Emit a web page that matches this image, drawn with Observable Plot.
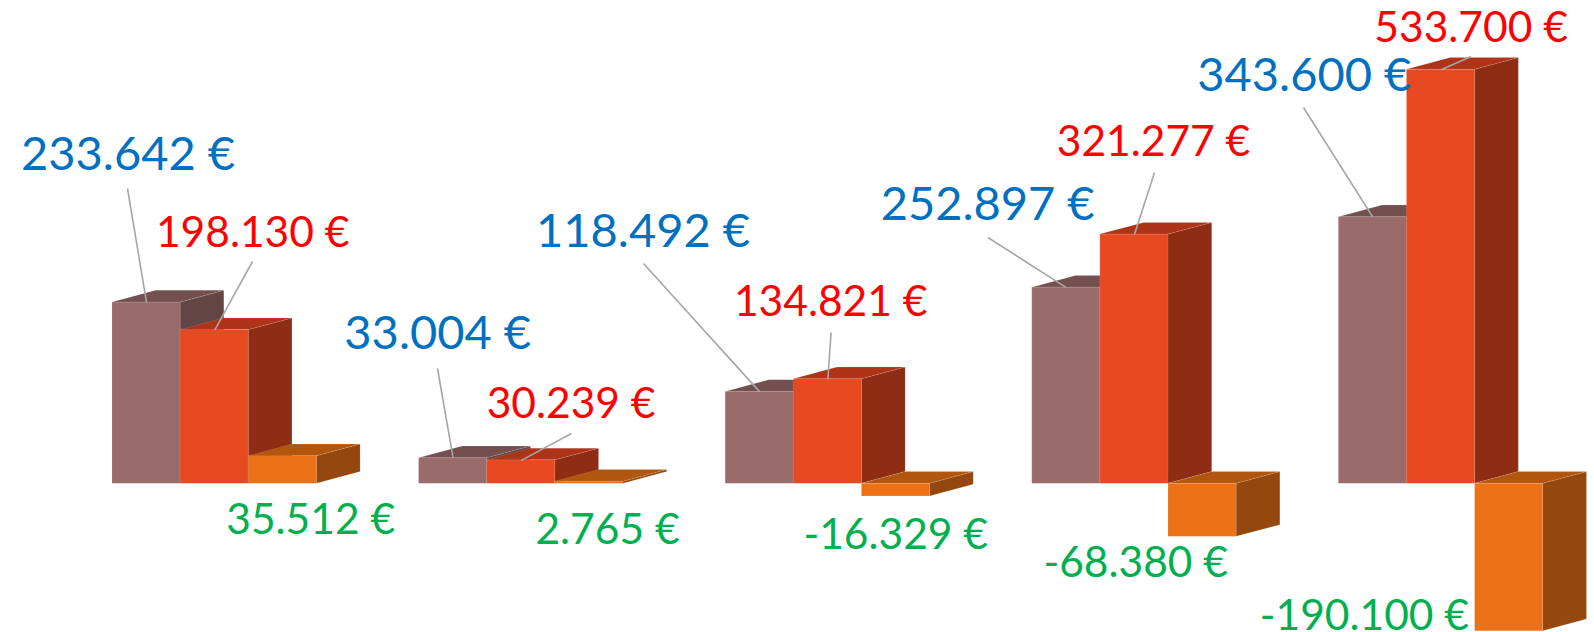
<!DOCTYPE html>
<html>
<head>
<meta charset="utf-8">
<style>html,body{margin:0;padding:0;background:#fff}svg{display:block}</style>
<script src="https://cdn.jsdelivr.net/npm/d3@7"></script>
<script src="https://cdn.jsdelivr.net/npm/@observablehq/plot@0.6"></script>
</head>
<body>
<div id="chart"></div>
<script>
// Values
const seriesA = [233642, 33004, 118492, 252897, 343600];
const seriesB = [198130, 30239, 134821, 321277, 533700];
const seriesC = [35512, 2765, -16329, -68380, -190100];

// Per-series styling
const frontColors = ["#9A6B6B", "#E74A21", "#ED7117"];
const topColors = ["#744F4F", "#AD3418", "#B1560F"];
const sideColors = ["#644545", "#8F2C14", "#94480E"];
const labelColors = ["#0070C0", "#FF0000", "#00B050"];
const labelSizes = [47, 42.5, 42.5];

// Layout: pixel positions of labels (centre) and of the start of leader lines
const labelXA = [127.5, 437.2, 642.5, 987.1, 1303.8];
const labelYA = [154.5, 333.4, 231.8, 204.3, 75.2];
const labelXB = [252.2, 570.6, 830.2, 1153, 1470.6];
const labelYB = [232.8, 403.6, 302, 142.3, 27.4];
const labelXC = [310.2, 607, 895.2, 1135.2, 1363.9];
const labelYC = [519.5, 529.6, 534.7, 563.2, 615.5];
const leadXA = [127, 437, 643, 987.4, 1303];
const leadYA = [188, 368, 263, 237, 107];
const leadXB = [252, 571, 830.6, 1154, 1470.7];
const leadYB = [261, 433, 332, 172, 56];

const W = 1594, H = 632;
const x0 = 112, pxPerBar = 68.13, y0 = 483.3, pxPerEuro = 0.0007757;
const groupStep = 4.5, depthX = 43.7 / pxPerBar, depthY = 11.7 / pxPerEuro;
const toX = px => (px - x0) / pxPerBar;
const toY = px => (y0 - px) / pxPerEuro;
const fmt = v => (v < 0 ? "-" : "") + String(Math.abs(v)).replace(/\B(?=(\d{3})+$)/g, ".") + " €";

const allSeries = [seriesA, seriesB, seriesC];
const labelX = [labelXA, labelXB, labelXC];
const labelY = [labelYA, labelYB, labelYC];

const marks = [];
allSeries.forEach((values, s) => {
  const bars = values.map((v, g) => ({
    g, v,
    l: g * groupStep + s,
    r: g * groupStep + s + 1,
    hi: Math.max(v, 0),
    lo: Math.min(v, 0)
  }));
  const side = bars.flatMap(b => [
    {z: b.g, x: b.r, y1: b.lo, y2: b.hi},
    {z: b.g, x: b.r + depthX, y1: b.lo + depthY, y2: b.hi + depthY}
  ]);
  const top = bars.flatMap(b => [
    {z: b.g, y: b.hi, x1: b.l, x2: b.r},
    {z: b.g, y: b.hi + depthY, x1: b.l + depthX, x2: b.r + depthX}
  ]);
  const edge = {stroke: "#fff", strokeOpacity: 0.1, strokeWidth: 1};
  marks.push(
    Plot.areaY(side, {x: "x", y1: "y1", y2: "y2", z: "z", fill: sideColors[s], ...edge}),
    Plot.areaX(top, {y: "y", x1: "x1", x2: "x2", z: "z", fill: topColors[s], ...edge}),
    Plot.rect(bars, {x1: "l", x2: "r", y1: "lo", y2: "hi", fill: frontColors[s], ...edge})
  );
});

// Leader lines
[[seriesA, leadXA, leadYA, 0], [seriesB, leadXB, leadYB, 1]].forEach(([values, lx, ly, s]) => {
  marks.push(Plot.link(values.map((v, g) => ({
    x1: toX(lx[g]), y1: toY(ly[g]), x2: g * groupStep + s + 0.5, y2: v
  })), {x1: "x1", y1: "y1", x2: "x2", y2: "y2", stroke: "#A6A6A6", strokeWidth: 1.6}));
});

// Labels
allSeries.forEach((values, s) => {
  marks.push(Plot.text(values.map((v, g) => ({
    x: toX(labelX[s][g]), y: toY(labelY[s][g]), t: fmt(v)
  })), {
    x: "x", y: "y", text: "t", fill: labelColors[s], fontSize: labelSizes[s],
    fontFamily: "Lato", textAnchor: "middle", lineAnchor: "middle"
  }));
});

const chart = Plot.plot({
  width: W, height: H,
  marginTop: 0, marginRight: 0, marginBottom: 0, marginLeft: 0,
  x: {domain: [toX(0), toX(W)], range: [0, W], axis: null},
  y: {domain: [toY(H), toY(0)], range: [H, 0], axis: null},
  style: {background: "#fff"},
  marks
});
document.getElementById("chart").append(chart);
</script>
</body>
</html>
